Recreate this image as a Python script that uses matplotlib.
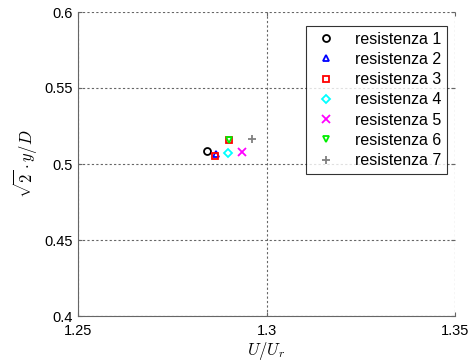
import matplotlib
matplotlib.use("Agg")
import matplotlib.pyplot as plt

labels = ["resistenza 1", "resistenza 2", "resistenza 3", "resistenza 4",
          "resistenza 5", "resistenza 6", "resistenza 7"]
x_vals = [[1.2841], [1.2867], [1.2863, 1.2901], [1.2897], [1.2934], [1.2901], [1.2961]]
y_vals = [[0.5088], [0.5068], [0.5055, 0.5156], [0.5072], [0.5077], [0.5156], [0.5164]]
markers = ["o", "^", "s", "D", "x", "v", "+"]
colors = ["black", "blue", "red", "cyan", "magenta", "#00ee00", "gray"]
xticks = [1.25, 1.3, 1.35]
yticks = [0.4, 0.45, 0.5, 0.55, 0.6]

plt.rcParams['font.family'] = ['Liberation Sans', 'DejaVu Sans']
plt.rcParams['mathtext.fontset'] = 'cm'

fig = plt.figure(figsize=(4.71, 3.63), dpi=100)
ax = fig.add_axes([78/471, 1 - 316/363, (455-78)/471, (316-12)/363])

for lab, xs, ys, m, c in zip(labels, x_vals, y_vals, markers, colors):
    ms = 5 if m in ("o", "s", "^", "v") else 6
    if m == "D":
        ms = 4.5
    ax.plot(xs, ys, linestyle="none", marker=m, markersize=ms, markerfacecolor="none",
            markeredgecolor=c, markeredgewidth=1.3, label=lab)

ax.set_xlim(1.25, 1.35)
ax.set_ylim(0.4, 0.6)
ax.set_xticks(xticks)
ax.set_xticklabels(["1.25", "1.3", "1.35"])
ax.set_yticks(yticks)
ax.set_yticklabels(["0.4", "0.45", "0.5", "0.55", "0.6"])
ax.grid(True, linestyle=(0, (2, 2)), color="#666666", linewidth=0.8)
for s in ["top", "right"]:
    ax.spines[s].set_visible(False)
for s in ["left", "bottom"]:
    ax.spines[s].set_color("#666666")
ax.tick_params(direction="in", length=3, labelsize=10.5, right=True, top=True, colors="#666666",
               labelcolor="black")
ax.tick_params(axis="x", pad=6)
ax.set_xlabel(r"$U/U_r$", fontsize=12, labelpad=1)
ax.set_ylabel(r"$\sqrt{2}\cdot y/D$", fontsize=12, labelpad=4)

leg = ax.legend(loc="upper right", bbox_to_anchor=(447/471, 1 - 26/363), bbox_transform=fig.transFigure,
                fontsize=11.5, frameon=True, fancybox=False, edgecolor="black", handletextpad=0.9,
                borderpad=0.35, labelspacing=0.33, handlelength=1.8, borderaxespad=0)
leg.get_frame().set_linewidth(0.8)

fig.savefig("out.png", dpi=100)
